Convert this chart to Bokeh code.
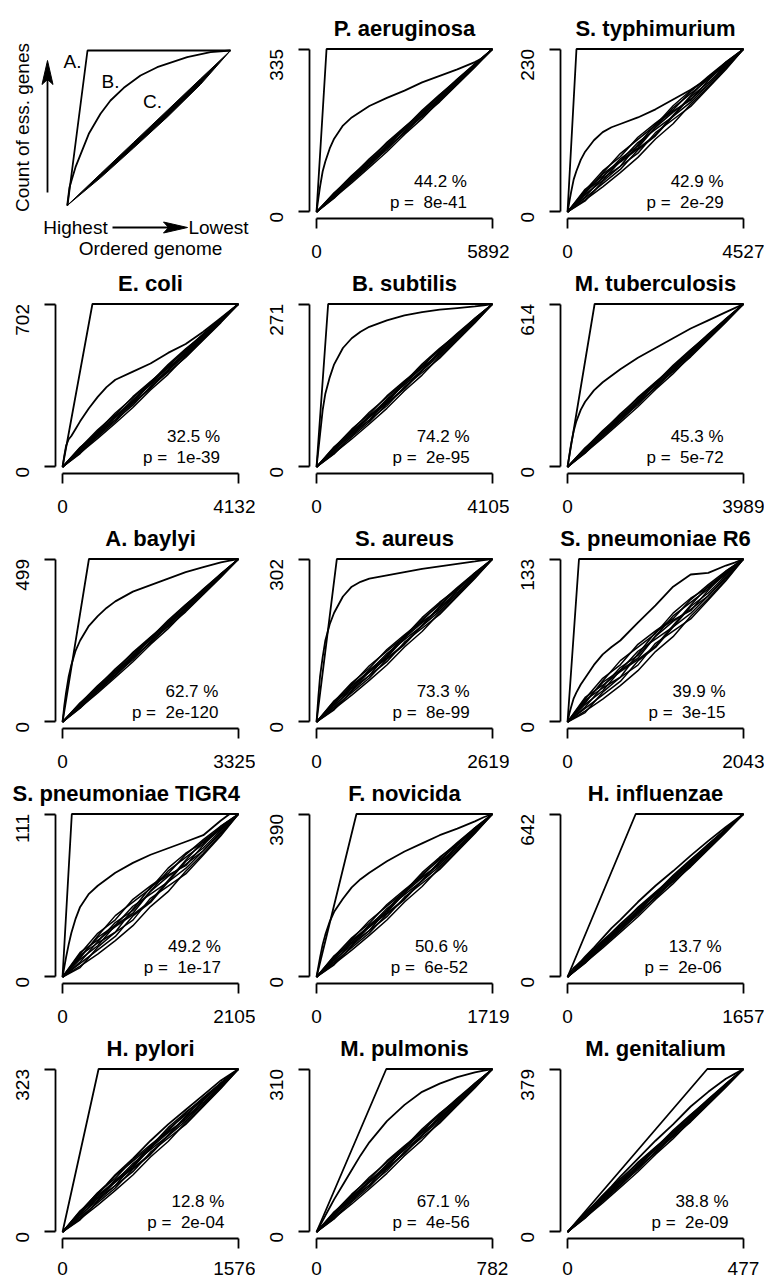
import math
from bokeh.plotting import figure
from bokeh.models import Range1d, FixedTicker, Spacer, Label
from bokeh.layouts import column, row
from bokeh.embed import file_html
from bokeh.resources import INLINE

# ---------------- data ----------------
species = ["P. aeruginosa", "S. typhimurium", "E. coli", "B. subtilis", "M. tuberculosis",
           "A. baylyi", "S. aureus", "S. pneumoniae R6", "S. pneumoniae TIGR4", "F. novicida",
           "H. influenzae", "H. pylori", "M. pulmonis", "M. genitalium"]
n_genes = [5892, 4527, 4132, 4105, 3989, 3325, 2619, 2043, 2105, 1719, 1657, 1576, 782, 477]
n_ess = [335, 230, 702, 271, 614, 499, 302, 133, 111, 390, 642, 323, 310, 379]
pct_text = ["44.2 %", "42.9 %", "32.5 %", "74.2 %", "45.3 %", "62.7 %", "73.3 %", "39.9 %",
            "49.2 %", "50.6 %", "13.7 %", "12.8 %", "67.1 %", "38.8 %"]
p_text = ["8e-41", "2e-29", "1e-39", "2e-95", "5e-72", "2e-120", "8e-99", "3e-15",
          "1e-17", "6e-52", "2e-06", "2e-04", "4e-56", "2e-09"]

# observed curve (B): fraction of essential genes found vs fraction of ordered genome
obs_frac = [0, .01, .02, .035, .05, .075, .1, .15, .2, .25, .3, .4, .5, .6, .7, .8, .9, .95, 1]
obs_pae = [0, .08, .155, .25, .31, .39, .45, .53, .58, .615, .65, .70, .745, .795, .835, .875, .92, .948, 1]
obs_sty = [0, .06, .12, .2, .25, .32, .37, .44, .49, .52, .54, .58, .63, .69, .75, .82, .9, .95, 1]
obs_eco = [0, .07, .13, .17, .19, .235, .28, .36, .43, .49, .535, .585, .635, .70, .755, .83, .915, .958, 1]
obs_bsu = [0, .1, .2, .35, .45, .55, .63, .73, .79, .83, .86, .9, .93, .95, .965, .975, .985, .992, 1]
obs_mtu = [0, .07, .14, .22, .28, .35, .4, .47, .52, .56, .6, .67, .73, .79, .85, .9, .95, .975, 1]
obs_aba = [0, .1, .18, .28, .35, .44, .5, .59, .65, .7, .74, .8, .84, .88, .92, .95, .98, .99, 1]
obs_sau = [0, .15, .28, .4, .5, .6, .67, .77, .83, .86, .88, .9, .92, .94, .955, .97, .985, .993, 1]
obs_spr = [0, .05, .09, .145, .18, .23, .27, .35, .415, .46, .50, .61, .715, .83, .905, .915, .96, .978, 1]
obs_spn = [0, .06, .12, .2, .27, .36, .43, .51, .56, .6, .64, .7, .75, .79, .83, .87, .96, 1, 1]
obs_fno = [0, .06, .12, .2, .26, .34, .4, .48, .55, .6, .64, .71, .77, .82, .87, .91, .955, .98, 1]
obs_hin = [0, .02, .035, .055, .07, .095, .125, .18, .24, .3, .35, .46, .56, .65, .745, .835, .92, .96, 1]
obs_hpy = [0, .012, .024, .04, .06, .09, .12, .18, .24, .29, .35, .45, .56, .66, .75, .84, .93, .965, 1]
obs_mpu = [0, .02, .04, .07, .1, .15, .2, .29, .38, .47, .55, .68, .78, .86, .91, .95, .98, .99, 1]
obs_mge = [0, .011, .022, .038, .055, .082, .11, .165, .225, .28, .34, .45, .56, .66, .77, .86, .94, .97, 1]
obs_curves = [obs_pae, obs_sty, obs_eco, obs_bsu, obs_mtu, obs_aba, obs_sau, obs_spr,
              obs_spn, obs_fno, obs_hin, obs_hpy, obs_mpu, obs_mge]

# random orderings (C): deviation from the diagonal, read as a fraction of the band half-width
rnd_frac = [0, .1, .2, .3, .4, .5, .6, .7, .8, .9, 1]
rnd_1 = [0, .3, .5, .2, -.1, .3, .6, .4, .2, .1, 0]
rnd_2 = [0, -.2, -.4, -.6, -.3, -.5, -.2, -.4, -.3, -.2, 0]
rnd_3 = [0, .5, .8, .6, .9, .7, .4, .6, .5, .3, 0]
rnd_4 = [0, -.4, -.7, -.9, -1, -.8, -.9, -.6, -.5, -.3, 0]
rnd_5 = [0, .1, -.1, .2, .4, .1, -.2, .1, -.1, 0, 0]
rnd_6 = [0, .6, .3, .1, -.2, -.4, -.1, .2, .4, .2, 0]
rnd_7 = [0, -.1, .2, .4, .1, .3, .2, -.1, -.3, -.1, 0]
rnd_8 = [0, .2, .6, .9, .7, .5, .8, .7, .3, .1, 0]
rnd_9 = [0, -.5, -.2, -.3, -.6, -.2, -.5, -.8, -.6, -.4, 0]
rnd_10 = [0, .4, .1, -.3, .2, .6, .3, -.2, .1, .3, 0]
rnd_curves = [rnd_1, rnd_2, rnd_3, rnd_4, rnd_5, rnd_6, rnd_7, rnd_8, rnd_9, rnd_10]
# band half-width of the random curves (fraction of essential-gene count)
rnd_spread = [0.03, 0.065, 0.035, 0.04, 0.03, 0.03, 0.05, 0.085, 0.085, 0.05, 0.03, 0.05, 0.04, 0.03]

# schematic panel (page pixel coordinates)
sch_a_x = [67, 87, 230]
sch_a_y = [205, 50, 50]
sch_b_x = [66.7, 69, 75, 88.3, 100, 110, 123.3, 140, 156.7, 186.7, 210, 230]
sch_b_y = [205, 186.7, 166.7, 133.3, 113.3, 100, 87.3, 75, 66.7, 56.7, 51.7, 50]
sch_c_x = [66.7, 100, 133.3, 166.7, 200, 230, 200, 166.7, 133.3, 100]
sch_c_y = [205, 177.3, 147.3, 116.7, 84, 50, 78.3, 110, 141.7, 173.3]

FONT = "Liberation Sans"
LW = 1.8
FW, FH, TOP = 190, 178, 29
TOP_PAD = 40 - TOP          # frame of the first row starts at y = 40
BOTTOM = [48, 48, 48, 48, 45]
STANDOFF = [16, 16, 16, 16, 13]
col_w = [255, 254, 255]
col_left = [55, 54, 51]
note_x = [0.855, 0.887, 0.895, 0.87, 0.887, 0.886, 0.87, 0.898, 0.9, 0.86, 0.876, 0.92, 0.87, 0.915]

# ---------------- schematic ----------------
SCH_H = TOP + FH + BOTTOM[0]
p0 = figure(width=col_w[0], height=SCH_H,
            x_range=Range1d(0, col_w[0]), y_range=Range1d(TOP_PAD + SCH_H, TOP_PAD),
            output_backend="svg", toolbar_location=None, title=None, min_border=0,
            x_axis_location=None, y_axis_location=None)
p0.grid.visible = False
p0.outline_line_color = None
p0.line(sch_a_x, sch_a_y, line_color="black", line_width=LW)
p0.line(sch_b_x, sch_b_y, line_color="black", line_width=LW)
p0.patch(sch_c_x, sch_c_y, fill_color="black", line_color="black", line_width=1)
# arrows
p0.line([47, 47], [192, 76], line_color="black", line_width=LW)
p0.patch([47, 41.5, 47, 52.5], [60, 84, 79, 84], fill_color="black", line_color="black")
p0.line([112, 170], [227, 227], line_color="black", line_width=LW)
p0.patch([187, 163, 168, 163], [227, 221.5, 227, 232.5], fill_color="black", line_color="black")


def lab(fig, **kw):
    fig.add_layout(Label(text_font=FONT, text_color="black", text_align="center",
                         text_baseline="middle", **kw))


for txt, x, y in [("A.", 72, 61), ("B.", 110, 81), ("C.", 152, 101)]:
    lab(p0, x=x, y=y, text=txt, text_font_size="19px")
lab(p0, x=22, y=127, text="Count of ess. genes", angle=math.pi / 2, text_font_size="19px")
lab(p0, x=75, y=227, text="Highest", text_font_size="19px")
lab(p0, x=218, y=227, text="Lowest", text_font_size="19px")
lab(p0, x=150, y=248, text="Ordered genome", text_font_size="19px")


# ---------------- species panels ----------------
def panel(i, w, bl, r):
    xmax, ymax = n_genes[i], n_ess[i]
    h = TOP + FH + BOTTOM[r]
    p = figure(width=w, height=h, title=species[i],
               x_range=Range1d(-0.04 * xmax, 1.04 * xmax), y_range=Range1d(-0.04 * ymax, 1.04 * ymax),
               output_backend="svg", toolbar_location=None,
               min_border_left=bl, min_border_right=w - bl - FW,
               min_border_top=TOP, min_border_bottom=BOTTOM[r])
    p.title.text_font = FONT
    p.title.text_font_style = "bold"
    p.title.text_font_size = "22px"
    p.title.text_color = "black"
    p.title.text_line_height = 0.9
    p.title.standoff = 4
    if species[i] == "S. pneumoniae TIGR4":
        p.title.align = "left"
        p.title.offset = -43
    else:
        p.title.align = "center"
    p.grid.visible = False
    p.outline_line_color = None
    for ax, mx in ((p.xaxis, xmax), (p.yaxis, ymax)):
        ax.ticker = FixedTicker(ticks=[0, mx])
        ax.bounds = (0, mx)
        ax.major_tick_in = 0
        ax.major_tick_out = 10
        ax.minor_tick_line_color = None
        ax.axis_line_width = LW
        ax.major_tick_line_width = LW
        ax.major_label_text_font = FONT
        ax.major_label_text_font_size = "19px"
        ax.major_label_text_color = "black"
    p.xaxis.major_label_standoff = STANDOFF[r]
    p.yaxis.major_label_orientation = math.pi / 2
    p.yaxis.major_tick_out = 11
    p.yaxis.major_label_standoff = 22
    # random orderings
    for rc in rnd_curves:
        xs = [f * xmax for f in rnd_frac]
        ys = [(f + rnd_spread[i] * d) * ymax for f, d in zip(rnd_frac, rc)]
        ys = [min(max(v, 0), ymax) for v in ys]
        p.line(xs, ys, line_color="black", line_width=1.5)
    # observed
    p.line([f * xmax for f in obs_frac], [f * ymax for f in obs_curves[i]], line_color="black", line_width=LW)
    # perfect ordering (A)
    p.line([0, ymax, xmax], [0, ymax, ymax], line_color="black", line_width=LW)
    p.add_layout(Label(x=note_x[i] * xmax, y=0.19 * ymax, text=pct_text[i], text_align="right",
                       text_baseline="middle", text_font=FONT, text_font_size="17px", text_color="black"))
    p.add_layout(Label(x=note_x[i] * xmax, y=0.06 * ymax, text="p = \u00a0" + p_text[i], text_align="right",
                       text_baseline="middle", text_font=FONT, text_font_size="17px", text_color="black"))
    return p


rows = [Spacer(width=764, height=TOP_PAD)]
k = 0
for r in range(5):
    figs = []
    for c in range(3):
        if r == 0 and c == 0:
            figs.append(column(p0))
            continue
        figs.append(panel(k, col_w[c], col_left[c], r))
        k += 1
    rows.append(row(*figs))

layout = column(*rows)
open("out.html", "w").write(file_html(layout, INLINE))
